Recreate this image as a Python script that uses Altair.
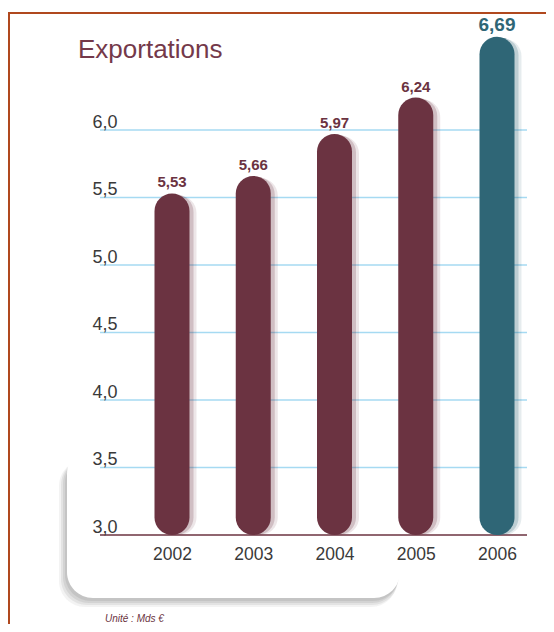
import altair as alt
import pandas as pd

# ---- data ----
years = ["2002", "2003", "2004", "2005", "2006"]
values = [5.53, 5.66, 5.97, 6.24, 6.69]
value_labels = ["5,53", "5,66", "5,97", "6,24", "6,69"]
grid_values = [3.5, 4.0, 4.5, 5.0, 5.5, 6.0]
baseline_values = [3.0]
tick_values = [3.0, 3.5, 4.0, 4.5, 5.0, 5.5, 6.0]
title_text = ["Exportations"]
unit_text = ["Unité : Mds €"]

MAROON = "#6B3341"
TEAL = "#2F6676"
FRAME = "#B0481E"
GRID = "#A6DAF2"
FONT = "Liberation Sans Narrow, Arial Narrow, Liberation Sans, sans-serif"

W, H = 427, 405

df = pd.DataFrame({"year": years, "value": values, "label": value_labels})
grid_df = pd.DataFrame({"value": grid_values})
base_df = pd.DataFrame({"value": baseline_values})
one = pd.DataFrame({"t": title_text})
unit_df = pd.DataFrame({"t": unit_text})

x_enc = alt.X(
    "year:O",
    scale=alt.Scale(type="point", range=[72, 397], padding=0),
    axis=alt.Axis(
        title=None, labelAngle=0, ticks=False, tickSize=0, grid=False,
        domain=False, labelFont=FONT, labelFontSize=17.5,
        labelColor="#3a3a3a", labelPadding=10, zindex=1,
    ),
)
y_enc = alt.Y(
    "value:Q",
    scale=alt.Scale(domain=[3, 6], nice=False, zero=False),
    axis=alt.Axis(
        title=None, values=tick_values, grid=False, ticks=False, tickSize=0,
        domain=False, labelAlign="left", labelPadding=8, labelBaseline="alphabetic",
        labelOffset=-3, labelFont=FONT, labelFontSize=18, labelColor="#3a3a3a",
        labelExpr="replace(format(datum.value, '.1f'), '.', ',')", zindex=1,
    ),
)
is2006 = "datum.year == '2006'"
col = alt.condition(is2006, alt.value(TEAL), alt.value(MAROON))

# frame
frame_left = alt.Chart(one).mark_rule(color=FRAME, strokeWidth=2).encode(
    x=alt.value(-91), y=alt.value(-117), y2=alt.value(500))
frame_top = alt.Chart(one).mark_rule(color=FRAME, strokeWidth=2).encode(
    x=alt.value(-92), x2=alt.value(450), y=alt.value(-117))

# title
title = alt.Chart(one).mark_text(
    align="left", baseline="alphabetic", font=FONT, fontSize=26, color="#74394A"
).encode(x=alt.value(-22), y=alt.value(-72), text="t:N")

# decorative box with shadow
shadows = []
for dx, dy, op in [(-8, 9, 0.10), (-6, 7, 0.14), (-4, 5, 0.18), (-2, 3, 0.2)]:
    shadows.append(
        alt.Chart(one).mark_rect(cornerRadius=26, color="#8a8a8a", opacity=op).encode(
            x=alt.value(-33 + dx), x2=alt.value(300 + dx // 3),
            y=alt.value(326 + dy // 2), y2=alt.value(468 + dy))
    )
box = alt.Chart(one).mark_rect(cornerRadius=26, color="white").encode(
    x=alt.value(-33), x2=alt.value(300), y=alt.value(318), y2=alt.value(468))

# grid lines
grid = alt.Chart(grid_df).mark_rule(color=GRID, strokeWidth=1.5).encode(
    y=y_enc, x=alt.value(0), x2=alt.value(W))
baseline = alt.Chart(base_df).mark_rule(color=MAROON, strokeWidth=1.5).encode(
    y=y_enc, x=alt.value(0), x2=alt.value(W))

# bar shadows
bs1 = alt.Chart(df).mark_bar(size=35, cornerRadius=17.5, xOffset=7, yOffset=2, opacity=0.12).encode(
    x=x_enc, y=y_enc, y2=alt.datum(3.0), color=col)
bs2 = alt.Chart(df).mark_bar(size=35, cornerRadius=17.5, xOffset=4, yOffset=1, opacity=0.22).encode(
    x=x_enc, y=y_enc, y2=alt.datum(3.0), color=col)
bars = alt.Chart(df).mark_bar(size=35, cornerRadius=17.5).encode(
    x=x_enc, y=y_enc, y2=alt.datum(3.0), color=col)

labels = alt.Chart(df).mark_text(
    dy=-6, baseline="alphabetic", font=FONT, fontWeight="bold"
).encode(
    x=x_enc, y=y_enc, text="label:N", color=col,
    size=alt.condition(is2006, alt.value(19), alt.value(15)),
)

unit = alt.Chart(unit_df).mark_text(
    align="left", baseline="alphabetic", font=FONT, fontSize=10, fontStyle="italic", color=MAROON
).encode(x=alt.value(5), y=alt.value(492), text="t:N")

chart = alt.layer(
    frame_left, frame_top, title, *shadows, box, grid, baseline, bs1, bs2, bars, labels, unit
).properties(
    width=W, height=H,
    padding={"left": 92, "top": 122, "right": 19, "bottom": 89},
    autosize=alt.AutoSizeParams(type="none"),
).configure_view(stroke=None)

chart.save("out.html", embed_options={"renderer": "svg", "actions": False})
